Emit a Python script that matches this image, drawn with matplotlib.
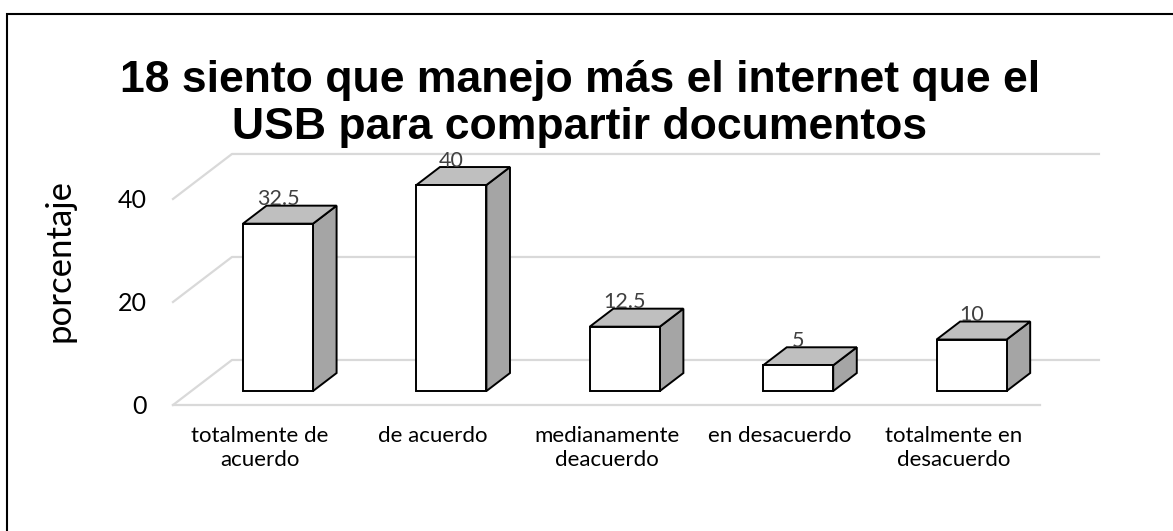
import matplotlib
matplotlib.use('Agg')
import matplotlib.pyplot as plt
from matplotlib.patches import Polygon, Rectangle

# data
categories = ['totalmente de\nacuerdo', 'de acuerdo', 'medianamente\ndeacuerdo',
              'en desacuerdo', 'totalmente en\ndesacuerdo']
values = [32.5, 40, 12.5, 5, 10]
value_labels = ['32.5', '40', '12.5', '5', '10']
y_ticks = [0, 20, 40]
title = '18 siento que manejo más el internet que el\nUSB para compartir documentos'
y_label = 'porcentaje'

# fake 3d geometry (oblique projection, in data units)
DX = 0.34      # depth shift along x for the full floor
DY = 8.74      # depth shift along y for the full floor
F0, F1 = 0.31, 0.71   # bar front / back position inside the depth
W = 0.404      # bar width
GRID = '#d9d9d9'

plt.rcParams['font.family'] = ['Lato', 'DejaVu Sans']

fig = plt.figure(figsize=(11.73, 5.31), dpi=100)
ax = fig.add_axes([173/1173, 126/531, 867/1173, 252/531])
ax.set_xlim(-0.5, len(values) - 0.5)
ax.set_ylim(0, 48.93)
for s in ax.spines.values():
    s.set_visible(False)

x0 = -0.5
x1 = len(values) - 0.5

# floor + wall gridlines
ax.plot([x0, x1], [0, 0], color=GRID, lw=1.6, clip_on=False, zorder=1)
for t in y_ticks:
    ax.plot([x0, x0 + DX, x1 + DX], [t, t + DY, t + DY], color=GRID, lw=1.6,
            clip_on=False, zorder=1)

# bars
for i, v in enumerate(values):
    l = i + F0*DX - W/2
    r = l + W
    b = F0*DY
    t = b + v
    ddx = (F1 - F0)*DX
    ddy = (F1 - F0)*DY
    front = Polygon([(l, b), (r, b), (r, t), (l, t)], closed=True,
                    facecolor='white', edgecolor='black', lw=1.4, zorder=3,
                    joinstyle='miter', clip_on=False)
    top = Polygon([(l, t), (r, t), (r + ddx, t + ddy), (l + ddx, t + ddy)], closed=True,
                  facecolor='#bfbfbf', edgecolor='black', lw=1.4, zorder=3,
                  joinstyle='miter', clip_on=False)
    side = Polygon([(r, b), (r + ddx, b + ddy), (r + ddx, t + ddy), (r, t)], closed=True,
                   facecolor='#a5a5a5', edgecolor='black', lw=1.4, zorder=3,
                   joinstyle='miter', clip_on=False)
    for p in (side, top, front):
        ax.add_patch(p)
    ax.text(i + F0*DX, t + ddy + 1.2, value_labels[i], ha='center', va='center',
            fontsize=15.5, color='#404040', zorder=4)

ax.set_yticks(y_ticks)
ax.set_yticklabels([str(t) for t in y_ticks], fontsize=18)
ax.set_xticks(range(len(categories)))
ax.set_xticklabels(categories, fontsize=16, linespacing=1.25)
ax.tick_params(axis='y', length=0, pad=19)
ax.tick_params(axis='x', length=0, pad=15)

fig.text(60/1173, 1 - 260/531, y_label, rotation=90, ha='center', va='center', fontsize=25)
fig.text(580/1173, 1 - 104/531, title, ha='center', va='center', fontsize=32,
         fontweight='bold', family='Liberation Sans', linespacing=1.2)

# chart border
fig.add_artist(Rectangle((7/1173, -0.1), 1.2, 1.1 - 14/531, transform=fig.transFigure,
                         fill=False, edgecolor='black', lw=1.5))

fig.savefig('out.png', dpi=100)
